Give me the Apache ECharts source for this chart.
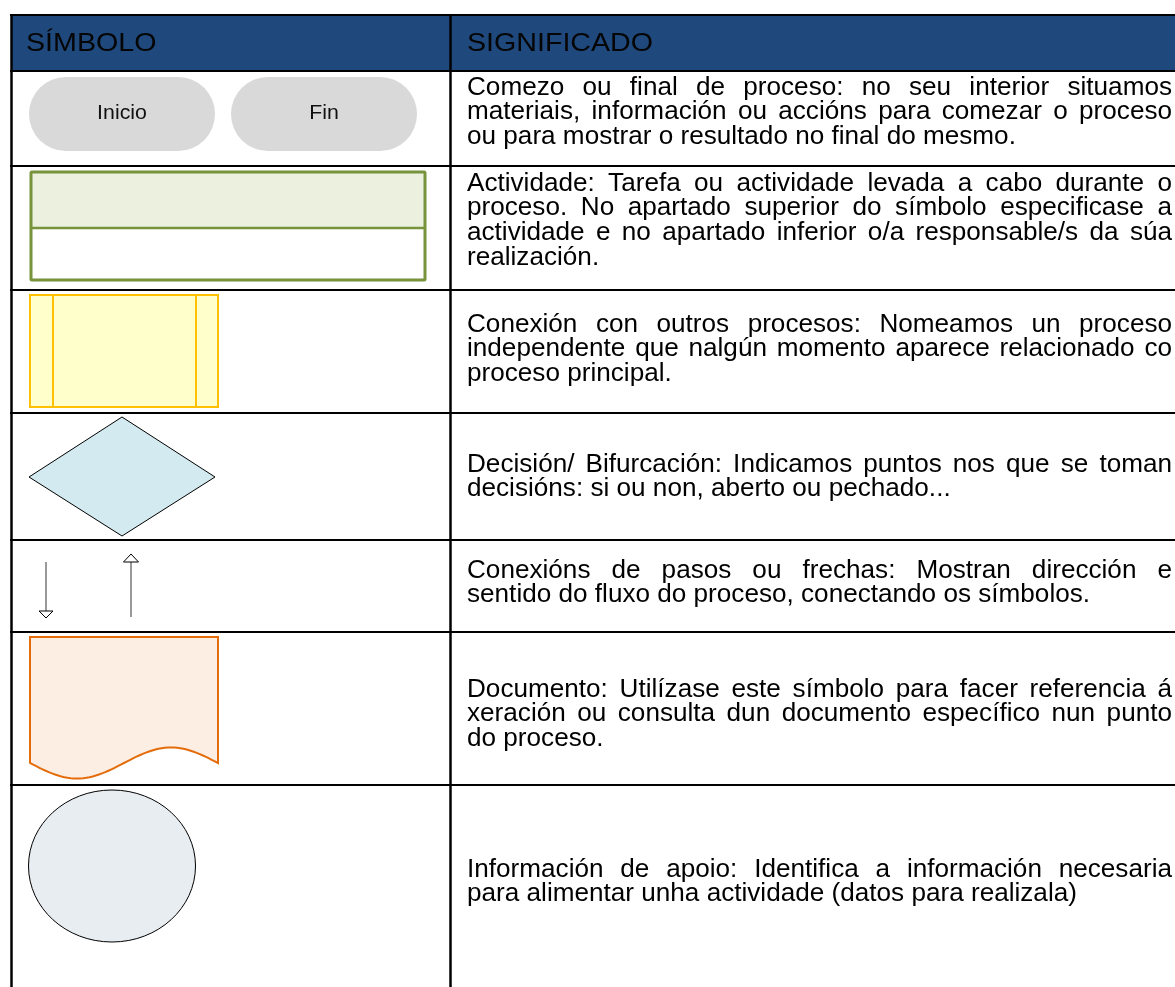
<!DOCTYPE html>
<html><head><meta charset="utf-8">
<script src="https://cdn.jsdelivr.net/npm/echarts@6/dist/echarts.min.js"></script>
<style>html,body{margin:0;padding:0;background:#fff}#c{width:1175px;height:987px}</style>
</head><body><div id="c"></div>
<script>
// ---- content ----
const headerLabels = ['SÍMBOLO', 'SIGNIFICADO'];
const terminalLabels = ['Inicio', 'Fin'];
const meaningTerminal = [
  'Comezo ou final de proceso: no seu interior situamos',
  'materiais, información ou accións para comezar o proceso',
  'ou para mostrar o resultado no final do mesmo.'
];
const meaningActivity = [
  'Actividade: Tarefa ou actividade levada a cabo durante o',
  'proceso. No apartado superior do símbolo especificase a',
  'actividade e no apartado inferior o/a responsable/s da súa',
  'realización.'
];
const meaningConnection = [
  'Conexión con outros procesos: Nomeamos un proceso',
  'independente que nalgún momento aparece relacionado co',
  'proceso principal.'
];
const meaningDecision = [
  'Decisión/ Bifurcación: Indicamos puntos nos que se toman',
  'decisións: si ou non, aberto ou pechado...'
];
const meaningArrows = [
  'Conexións de pasos ou frechas: Mostran dirección e',
  'sentido do fluxo do proceso, conectando os símbolos.'
];
const meaningDocument = [
  'Documento: Utilízase este símbolo para facer referencia á',
  'xeración ou consulta dun documento específico nun punto',
  'do proceso.'
];
const meaningInfo = [
  'Información de apoio: Identifica a información necesaria',
  'para alimentar unha actividade (datos para realizala)'
];
const meanings = [meaningTerminal, meaningActivity, meaningConnection, meaningDecision,
                  meaningArrows, meaningDocument, meaningInfo];

// ---- layout ----
const FONT = '"Liberation Sans", Arial, Helvetica, sans-serif';
const rowEdges = [15, 71, 166, 290, 413, 540, 632, 785];
const firstLineY = [88, 184, 325, 465, 571, 690, 870];
const BODY = { size: 25, sx: 1.045, left: 467, right: 1172, lh: 24.6 };
const HEAD = { size: 26.5, sx: 1.08, y: 44 };

const ctx = document.createElement('canvas').getContext('2d');
function measure(t, size) { ctx.font = size + 'px ' + FONT; return ctx.measureText(t).width; }

function textEl(t, x, y, size, sx, color) {
  return { type: 'text', x: x, y: y, scaleX: sx, z: 10,
    style: { text: t, x: 0, y: 0, fill: color || '#000', fontSize: size, fontFamily: FONT,
      align: 'left', verticalAlign: 'middle' } };
}

const els = [];
// header background
els.push({ type: 'rect', shape: { x: 11, y: 15, width: 1164, height: 56 }, style: { fill: '#1f497d' } });
els.push(textEl(headerLabels[0], 26, HEAD.y, HEAD.size, HEAD.sx, '#050505'));
els.push(textEl(headerLabels[1], 467, HEAD.y, HEAD.size, HEAD.sx, '#050505'));

// body text (justified)
meanings.forEach((lines, r) => {
  lines.forEach((line, j) => {
    const y = firstLineY[r] + j * BODY.lh;
    const words = line.split(' ');
    const ws = words.map(w => measure(w, BODY.size) * BODY.sx);
    const sum = ws.reduce((a, b) => a + b, 0);
    const justify = j < lines.length - 1 && words.length > 1;
    const gap = justify ? (BODY.right - BODY.left - sum) / (words.length - 1)
                        : measure(' ', BODY.size) * BODY.sx;
    let x = BODY.left;
    words.forEach((w, k) => { els.push(textEl(w, x, y, BODY.size, BODY.sx)); x += ws[k] + gap; });
  });
});

// row 1: terminals
[[29, 77], [231, 77]].forEach((p, i) => {
  els.push({ type: 'rect', shape: { x: p[0], y: p[1], width: 186, height: 74, r: 37 }, style: { fill: '#d9d9d9' } });
  const w = measure(terminalLabels[i], 20.5) * 1.04;
  els.push(textEl(terminalLabels[i], p[0] + 93 - w / 2, 113, 20.5, 1.04, '#111'));
});
// row 2: activity
els.push({ type: 'rect', shape: { x: 31, y: 172, width: 394, height: 56 }, style: { fill: '#ebf1de' } });
els.push({ type: 'rect', shape: { x: 31, y: 172, width: 394, height: 108, r: 1 }, style: { fill: 'none', stroke: '#77933c', lineWidth: 3 } });
els.push({ type: 'line', shape: { x1: 31, y1: 228, x2: 425, y2: 228 }, style: { stroke: '#77933c', lineWidth: 2.5 } });
// row 3: connection to other process
els.push({ type: 'rect', shape: { x: 30, y: 295, width: 188, height: 112 }, style: { fill: '#ffffcc', stroke: '#ffc000', lineWidth: 2 } });
els.push({ type: 'line', shape: { x1: 53, y1: 295, x2: 53, y2: 407 }, style: { stroke: '#ffc000', lineWidth: 2 } });
els.push({ type: 'line', shape: { x1: 196, y1: 295, x2: 196, y2: 407 }, style: { stroke: '#ffc000', lineWidth: 2 } });
// row 4: decision
els.push({ type: 'polygon', shape: { points: [[29, 477], [122, 417], [215, 477], [122, 536]] },
  style: { fill: '#d2eaf0', stroke: '#000', lineWidth: 1 } });
// row 5: arrows
els.push({ type: 'line', shape: { x1: 46, y1: 562, x2: 46, y2: 611 }, style: { stroke: '#777', lineWidth: 1.5 } });
els.push({ type: 'polygon', shape: { points: [[39, 611], [53, 611], [46, 618]] }, style: { fill: '#fff', stroke: '#000', lineWidth: 1 } });
els.push({ type: 'line', shape: { x1: 131, y1: 617, x2: 131, y2: 562 }, style: { stroke: '#777', lineWidth: 1.5 } });
els.push({ type: 'polygon', shape: { points: [[123.5, 562], [138.5, 562], [131, 554]] }, style: { fill: '#fff', stroke: '#000', lineWidth: 1 } });
// row 6: document
(function () {
  const pts = [[30, 637], [218, 637], [218, 763]];
  for (let i = 0; i <= 60; i++) {
    const x = 218 - i * (188 / 60);
    const t = (x - 30) / 94;
    pts.push([x, 763 + 15.5 * Math.sin(Math.PI * t)]);
  }
  els.push({ type: 'polygon', shape: { points: pts }, style: { fill: '#fdeee3', stroke: '#e46c0a', lineWidth: 2 } });
})();
// row 7: ellipse
els.push({ type: 'ellipse', shape: { cx: 112, cy: 866, rx: 83.5, ry: 76 }, style: { fill: '#e8edf2', stroke: '#000', lineWidth: 1 } });

// table grid
rowEdges.forEach(y => els.push({ type: 'line', z: 20, shape: { x1: 10, y1: y, x2: 1175, y2: y }, style: { stroke: '#000', lineWidth: 2.2 } }));
els.push({ type: 'line', z: 20, shape: { x1: 11.5, y1: 14, x2: 11.5, y2: 987 }, style: { stroke: '#000', lineWidth: 2.5 } });
els.push({ type: 'line', z: 20, shape: { x1: 450.5, y1: 14, x2: 450.5, y2: 987 }, style: { stroke: '#000', lineWidth: 2.5 } });

const chart = echarts.init(document.getElementById('c'), null, { renderer: 'canvas' });
chart.setOption({ animation: false, backgroundColor: '#fff', graphic: { elements: els } });
</script>
</body></html>
